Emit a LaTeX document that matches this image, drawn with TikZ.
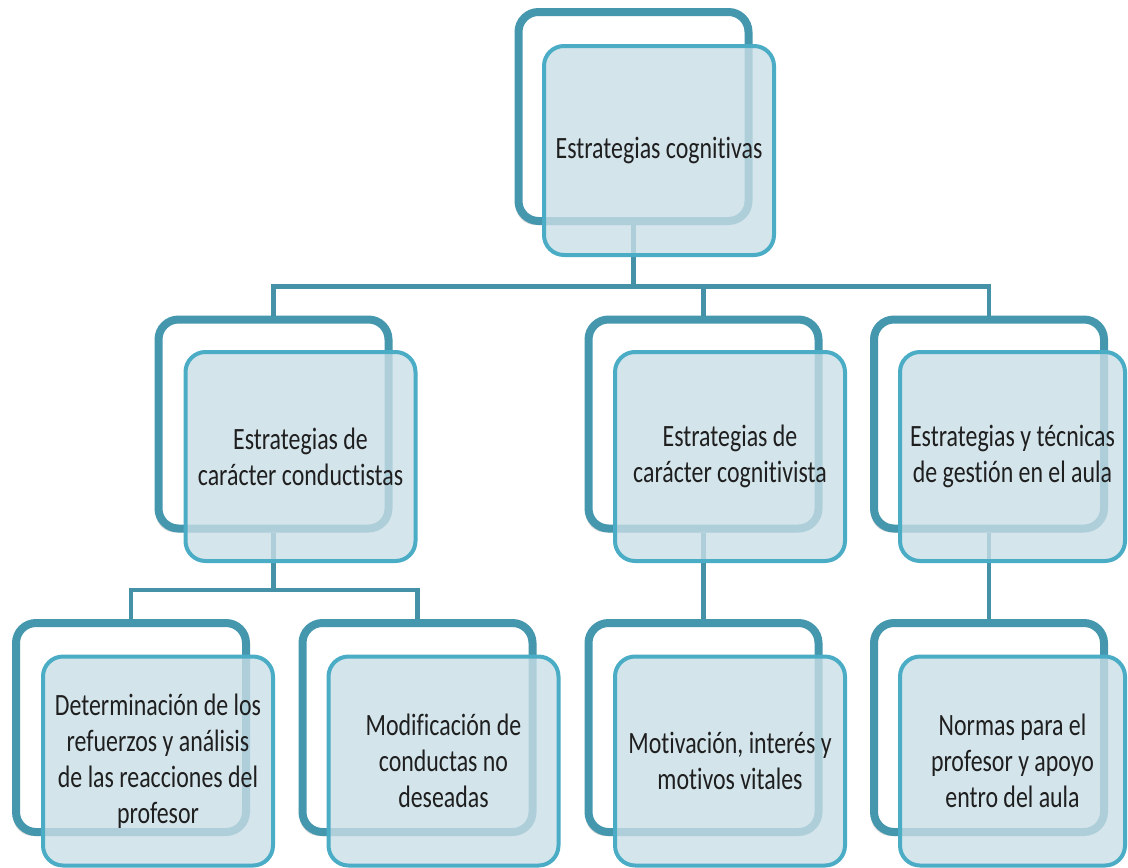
\documentclass[tikz,border=0pt]{standalone}
\usepackage{fontspec}
\setmainfont{Carlito}[FakeStretch=0.77,Ligatures=NoCommon]
\usetikzlibrary{shadows}
\definecolor{tealdark}{HTML}{4597AE}
\definecolor{tealline}{HTML}{4592A8}
\definecolor{aqua}{HTML}{4BACC6}
\definecolor{paleaqua}{HTML}{C9DEE6}
\begin{document}
\begin{tikzpicture}[x=0.5pt,y=-0.5pt,
  every node/.style={font=\fontsize{15.5}{18}\selectfont,align=center,text=black!88},
  backbox/.style={draw=tealdark,line width=4pt,fill=white,rounded corners=10pt,minimum width=115pt,minimum height=104.5pt,
    drop shadow={shadow xshift=-1.5pt,shadow yshift=-2pt,opacity=0.3}},
  frontbox/.style={draw=aqua,line width=2pt,fill=paleaqua,fill opacity=0.8,text opacity=1,rounded corners=10pt,minimum width=115pt,minimum height=104.5pt},
  link/.style={draw=tealline,line width=2.2pt}]
  \useasboundingbox (0,0) rectangle (1128,867);
  % back frames
  \node[backbox] (bk0) at (633.5,116.5) {};
  \foreach \i/\x in {1/273.5,2/703.5,3/989} \node[backbox] (bk\i) at (\x,424) {};
  \foreach \i/\x in {4/131,5/417.5,6/703.5,7/989} \node[backbox] (bk\i) at (\x,727.5) {};
  % connectors
  \foreach \j in {1,2,3} \draw[link] (bk0.south) |- ([yshift=14.5pt]bk\j.north) -- (bk\j.north);
  \foreach \j in {4,5} \draw[link] (bk1.south) |- ([yshift=14.5pt]bk\j.north) -- (bk\j.north);
  \draw[link] (bk2.south) -- (bk6.north);
  \draw[link] (bk3.south) -- (bk7.north);
  % front boxes
  \node[frontbox] (fr0) at (659,150.5) {Estrategias cognitivas};
  \node[frontbox] (fr1) at (300.5,456.5) {Estrategias de\\carácter conductistas};
  \node[frontbox] (fr2) at (730,456.5) {Estrategias de\\carácter cognitivista};
  \node[frontbox,minimum width=112.5pt] (fr3) at (1012.5,456.5) {Estrategias y técnicas\\de gestión en el aula};
  \node[frontbox] (fr4) at (158,761) {Determinación de los\\refuerzos y análisis\\de las reacciones del\\profesor};
  \node[frontbox] (fr5) at (443.5,761) {Modificación de\\conductas no\\deseadas};
  \node[frontbox] (fr6) at (730,761) {Motivación, interés y\\motivos vitales};
  \node[frontbox,minimum width=112.5pt] (fr7) at (1012.5,761) {Normas para el\\profesor y apoyo\\entro del aula};
\end{tikzpicture}
\end{document}
